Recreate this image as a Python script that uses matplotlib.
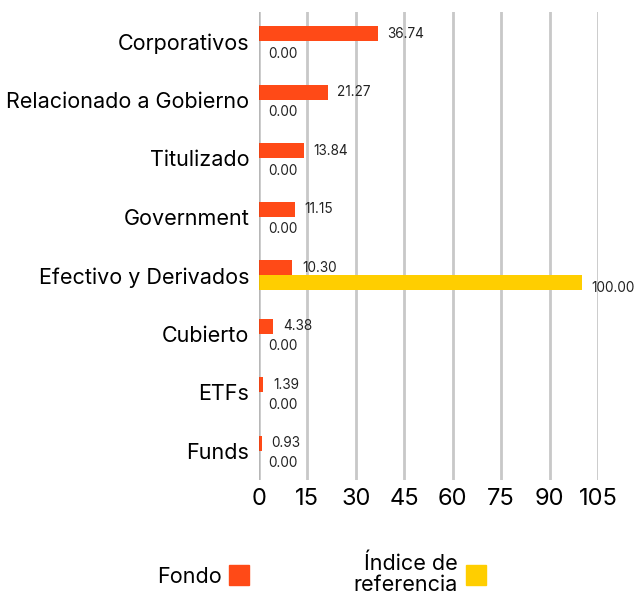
import numpy as np
import matplotlib
matplotlib.use('Agg')
import matplotlib.pyplot as plt
import matplotlib.transforms as mtransforms
from matplotlib.patches import Rectangle

categories = ['Corporativos', 'Relacionado a Gobierno', 'Titulizado', 'Government',
              'Efectivo y Derivados', 'Cubierto', 'ETFs', 'Funds']
fondo = [36.74, 21.27, 13.84, 11.15, 10.30, 4.38, 1.39, 0.93]
indice = [0.00, 0.00, 0.00, 0.00, 100.00, 0.00, 0.00, 0.00]
xticks = [0, 15, 30, 45, 60, 75, 90, 105]

c_fondo = '#ff4a17'
c_indice = '#ffce00'

plt.rcParams['font.family'] = ['Inter', 'DejaVu Sans']

fig = plt.figure(figsize=(6.38, 5.98), dpi=100)
ax = fig.add_axes([259/638, 1 - 480/598, 339/638, (480 - 12)/598])

y = np.arange(len(categories))
h = 0.26
ax.barh(y - h/2, fondo, height=h, color=c_fondo, zorder=3)
ax.barh(y + h/2, indice, height=h, color=c_indice, zorder=3)

for i in range(len(categories)):
    ax.text(fondo[i] + 3, y[i] - h/2, '%.2f' % fondo[i], va='center', ha='left',
            fontsize=9.8, color='#222222')
    ax.text(indice[i] + 3, y[i] + h/2 + 0.08, '%.2f' % indice[i], va='center', ha='left',
            fontsize=9.8, color='#222222')

ax.set_ylim(len(categories) - 0.5, -0.5)
ax.set_xlim(0, 105)
ax.set_yticks(y)
ax.set_yticklabels(categories, fontsize=15.5)
ax.set_xticks(xticks)
ax.set_xticklabels([str(t) for t in xticks], fontsize=17)
ax.tick_params(axis='both', length=0, pad=7)
ax.tick_params(axis='x', pad=6)
for s in ax.spines.values():
    s.set_visible(False)
ax.grid(axis='x', color='#c8c8c8', linewidth=2, zorder=0)
# zero line sits just left of the bars so small values stay visible
trans = mtransforms.offset_copy(ax.get_xaxis_transform(), fig=fig, x=-2, y=0, units='dots')
ax.plot([0, 0], [0, 1], color='black', linewidth=3, transform=trans, zorder=4,
        solid_capstyle='butt')

# legend drawn by hand
fig.text(222/638, 1 - 577/598, 'Fondo', ha='right', va='center', fontsize=15.5)
fig.patches.append(Rectangle((229/638, 1 - 585/598), 20/638, 20/598, color=c_fondo,
                             transform=fig.transFigure, figure=fig))
fig.text(458/638, 1 - 574/598, 'Índice de\nreferencia', ha='right', va='center',
         fontsize=15.5, multialignment='right', linespacing=1.05)
fig.patches.append(Rectangle((466/638, 1 - 585/598), 20/638, 20/598, color=c_indice,
                             transform=fig.transFigure, figure=fig))

fig.savefig('out.png', dpi=100)
